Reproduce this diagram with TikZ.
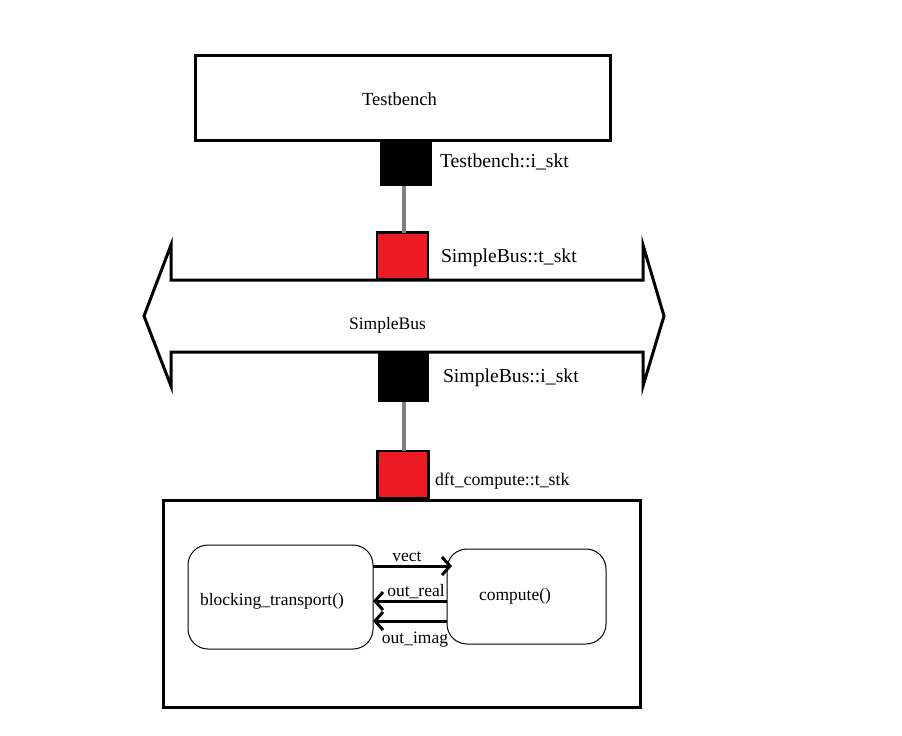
\documentclass[tikz,border=0pt]{standalone}
\usepackage{fontspec}
\setmainfont{Liberation Serif}
\usetikzlibrary{arrows.meta}
\definecolor{sockred}{RGB}{237,28,36}
\definecolor{linkgray}{RGB}{128,128,128}
\begin{document}
\begin{tikzpicture}[x=1pt,y=-1pt,
  font=\fontsize{17.5}{20}\selectfont,
  block/.style={draw=black,line width=3pt,inner sep=0pt,outer sep=0pt},
  initsock/.style={fill=black,inner sep=0pt,outer sep=0pt,minimum width=51pt,minimum height=47pt},
  targsock/.style={fill=sockred,draw=black,line width=2.5pt,inner sep=0pt,outer sep=0pt,minimum width=51pt,minimum height=47pt},
  link/.style={draw=linkgray,line width=4pt},
  proc/.style={draw=black,line width=1pt,rounded corners=20pt,inner sep=0pt,outer sep=0pt},
  flow/.style={line width=3pt,-{Straight Barb[length=8pt,width=18pt]}},
  lbl/.style={inner sep=0pt,outer sep=0pt},
  biglbl/.style={lbl,font=\fontsize{19.7}{22}\selectfont}]
\useasboundingbox (0,0) rectangle (902,736);

% Testbench
\node[block,minimum width=415pt,minimum height=85pt] (tb) at (402.5,97.5) {};
\node[lbl,anchor=base,font=\fontsize{18.5}{21}\selectfont] (tbtxt) at (399.5,105) {Testbench};

% Bus
\draw[line width=3pt,line join=miter] (144,316) -- (171,245) -- (171,280) -- (643,280) -- (643,245) -- (664,316)
  -- (643,386) -- (643,352) -- (171,352) -- (171,386) -- cycle;
\node[lbl,anchor=base] (bus) at (387.5,329) {SimpleBus};

% sockets
\node[initsock,minimum width=52pt,minimum height=46pt] (tbi) at (406,163) {};
\node[targsock] (sbt) at (402.5,256) {};
\node[initsock,minimum height=50pt] (sbi) at (403.5,377) {};
\node[targsock] (dct) at (403,474.5) {};

\draw[link] (tbi.south -| 404,0) -- (sbt.north -| 404,0);
\draw[link] (sbi.south -| 404,0) -- (dct.north -| 404,0);

\node[biglbl,anchor=base west] (tbil) at (440,167) {Testbench::i\_skt};
\node[biglbl,anchor=base west] (sbtl) at (441,262) {SimpleBus::t\_skt};
\node[biglbl,anchor=base west] (sbil) at (443,382) {SimpleBus::i\_skt};
\node[lbl,anchor=base west,font=\fontsize{17.8}{20}\selectfont] (dctl) at (435,485) {dft\_compute::t\_stk};

% dft_compute module
\node[block,minimum width=477pt,minimum height=207pt] (dc) at (401.5,603.5) {};

\node[proc,minimum width=185pt,minimum height=104pt] (bt) at (280.5,597) {};
\node[lbl,anchor=base] (bttxt) at (272,605) {blocking\_transport()};
\node[proc,minimum width=159pt,minimum height=95pt] (cp) at (526.5,596.5) {};
\node[lbl,anchor=base] (cptxt) at (515,600) {compute()};

\node[lbl,anchor=base] (vectl) at (407,561) {vect};
\node[lbl,anchor=base] (orl) at (416,596) {out\_real};
\node[lbl,anchor=base] (oil) at (415,643) {out\_imag};

\coordinate (y1) at (0,566);
\coordinate (y2) at (0,601);
\coordinate (y3) at (0,621);
\draw[flow,shorten >=-5pt] (bt.east |- y1) -- (cp.west |- y1);
\draw[flow] (cp.west |- y2) -- (bt.east |- y2);
\draw[flow] (cp.west |- y3) -- (bt.east |- y3);
\end{tikzpicture}
\end{document}
